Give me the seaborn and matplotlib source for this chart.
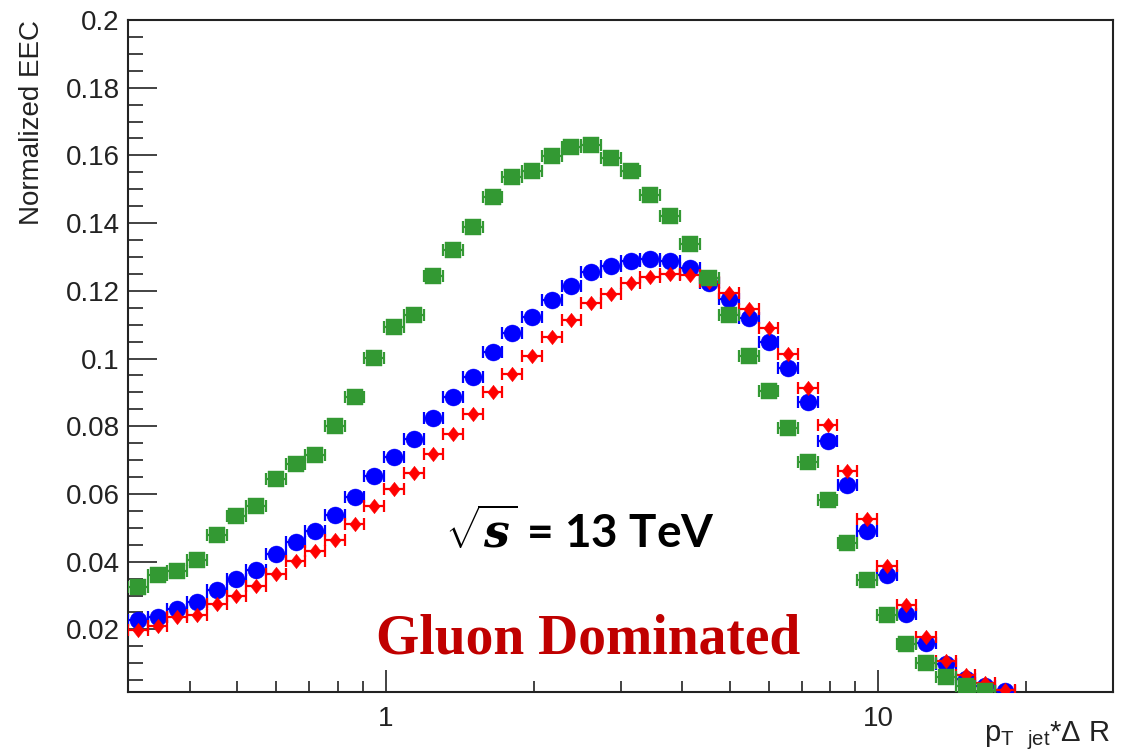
import matplotlib
matplotlib.use("Agg")
import matplotlib.pyplot as plt
import numpy as np
import pandas as pd
import seaborn as sns
from matplotlib.ticker import FixedLocator, MultipleLocator, FuncFormatter, NullFormatter

# ---------------- data ----------------
# log-spaced bin centres of p_T,jet * dR (50 bins from 0.3 to 30)
x_centers = [0.3141, 0.3444, 0.3777, 0.4141, 0.4541, 0.4979, 0.5460, 0.5987,
             0.6565, 0.7198, 0.7893, 0.8655, 0.9490, 1.0406, 1.1411, 1.2512,
             1.3720, 1.5044, 1.6496, 1.8089, 1.9835, 2.1750, 2.3849, 2.6151,
             2.8676, 3.1444, 3.4479, 3.7807, 4.1456, 4.5458, 4.9846, 5.4657,
             5.9933, 6.5718, 7.2062, 7.9018, 8.6645, 9.5009, 10.418, 11.423,
             12.526, 13.735, 15.060, 16.514, 18.108]
bin_half_width_dex = 0.02

eec_green = [0.0325, 0.0362, 0.0371, 0.0404, 0.0478, 0.0534, 0.0564, 0.0643,
             0.0688, 0.0715, 0.0800, 0.0886, 0.1003, 0.1092, 0.1128, 0.1243,
             0.1322, 0.1389, 0.1478, 0.1535, 0.1555, 0.1598, 0.1626, 0.1630,
             0.1591, 0.1555, 0.1483, 0.1421, 0.1338, 0.1238, 0.1128, 0.1008,
             0.0903, 0.0794, 0.0694, 0.0581, 0.0455, 0.0347, 0.0242, 0.0158,
             0.0100, 0.0060, 0.0033, 0.0018]

eec_blue = [0.0227, 0.0236, 0.0261, 0.0281, 0.0317, 0.0350, 0.0376, 0.0424,
            0.0458, 0.0491, 0.0539, 0.0591, 0.0652, 0.0709, 0.0762, 0.0825,
            0.0887, 0.0944, 0.1018, 0.1074, 0.1122, 0.1173, 0.1215, 0.1256,
            0.1274, 0.1288, 0.1293, 0.1289, 0.1266, 0.1224, 0.1177, 0.1120,
            0.1049, 0.0971, 0.0872, 0.0757, 0.0626, 0.0491, 0.0360, 0.0244,
            0.0159, 0.0099, 0.0054, 0.0034, 0.0018]

eec_red = [0.0197, 0.0209, 0.0236, 0.0243, 0.0276, 0.0300, 0.0327, 0.0363,
           0.0402, 0.0431, 0.0463, 0.0510, 0.0564, 0.0616, 0.0663, 0.0719,
           0.0776, 0.0835, 0.0901, 0.0954, 0.1007, 0.1064, 0.1113, 0.1163,
           0.1190, 0.1222, 0.1241, 0.1251, 0.1247, 0.1227, 0.1194, 0.1146,
           0.1091, 0.1012, 0.0913, 0.0804, 0.0668, 0.0527, 0.0387, 0.0273,
           0.0177, 0.0108, 0.0064, 0.0041, 0.0022]

x_major_ticks = [1, 10]
x_major_labels = ["1", "10"]
x_minor_ticks = [0.3, 0.4, 0.5, 0.6, 0.7, 0.8, 0.9, 2, 3, 4, 5, 6, 7, 8, 9, 20]

y_label = "Normalized EEC"
energy_text = r"$\sqrt{s}$ = 13 TeV"
regime_text = "Gluon Dominated"

# ---------------- style ----------------
sns.set_style("white")
plt.rcParams["font.family"] = ["Liberation Sans", "DejaVu Sans"]
plt.rcParams["mathtext.fontset"] = "custom"
plt.rcParams["mathtext.rm"] = "Liberation Sans"
plt.rcParams["mathtext.it"] = "DejaVu Serif:italic:bold"
plt.rcParams["mathtext.bf"] = "Liberation Sans:bold"

W, H = 1124, 751
fig = plt.figure(figsize=(W / 100, H / 100), dpi=100)
ax = fig.add_axes([128 / W, 59 / H, 985 / W, 672 / H])

diamond = [(0, 1), (0.78, 0), (0, -1), (-0.78, 0), (0, 1)]
series = [
    ("blue", eec_blue, "#0000ff", "o", 150),
    ("red", eec_red, "#ff0000", diamond, 110),
    ("green", eec_green, "#339933", "s", 135),
]

frames = []
for name, vals, col, mk, sz in series:
    frames.append(pd.DataFrame({"x": x_centers[:len(vals)], "eec": vals, "series": name}))
df = pd.concat(frames, ignore_index=True)

z = 3
for name, vals, col, mk, sz in series:
    sub = df[df["series"] == name]
    xs = sub["x"].to_numpy()
    lo = xs - xs / 10 ** bin_half_width_dex
    hi = xs * 10 ** bin_half_width_dex - xs
    ax.errorbar(xs, sub["eec"], xerr=[lo, hi], fmt="none", ecolor=col,
                elinewidth=1.6, capsize=4.5, capthick=1.6, zorder=z)
    sns.scatterplot(data=sub, x="x", y="eec", ax=ax, color=col, marker=mk,
                    s=sz, edgecolor=col, linewidth=0.3, legend=False, zorder=z + 1)
    z += 2

ax.set_xscale("log")
ax.set_xlim(0.3, 30)
ax.set_ylim(0.0015, 0.2)

ax.xaxis.set_major_locator(FixedLocator(x_major_ticks))
ax.xaxis.set_major_formatter(FuncFormatter(lambda v, p: x_major_labels[x_major_ticks.index(round(v))] if round(v) in x_major_ticks else ""))
ax.xaxis.set_minor_locator(FixedLocator(x_minor_ticks))
ax.xaxis.set_minor_formatter(NullFormatter())
ax.yaxis.set_major_locator(MultipleLocator(0.02))
ax.yaxis.set_major_formatter(FuncFormatter(lambda v, p: f"{round(v, 3):g}"))
ax.yaxis.set_minor_locator(MultipleLocator(0.005))

ax.tick_params(which="both", direction="in", bottom=True, left=True,
               top=False, right=False, colors="#222222")
ax.tick_params(axis="y", which="major", length=21, width=1.2, labelsize=20, pad=6)
ax.tick_params(axis="y", which="minor", length=11, width=1.2)
ax.tick_params(axis="x", which="major", length=16, width=1.2, labelsize=20, pad=10)
ax.tick_params(axis="x", which="minor", length=8, width=1.2)
for s in ax.spines.values():
    s.set_linewidth(1.5)
    s.set_color("#222222")
ax.set_xlabel("")
ax.set_ylabel("")

fig.text(32 / W, 1 - 20 / H, y_label, rotation=90, ha="center", va="top",
         fontsize=20, color="#222222")
fig.text(1110 / W, 1 - 741 / H, r"p$_{\mathrm{T\ \ jet}}$*Δ R", ha="right",
         va="baseline", fontsize=21, color="#222222")

fig.text(580 / W, 1 - 548 / H, energy_text, ha="center", va="baseline",
         fontsize=33, fontweight="bold", family="Lato", color="black")
fig.text(588 / W, 1 - 653 / H, regime_text, ha="center", va="baseline",
         fontsize=40, fontweight="bold", family="Liberation Serif", color="#c00000")

fig.savefig("out.png", dpi=100)
